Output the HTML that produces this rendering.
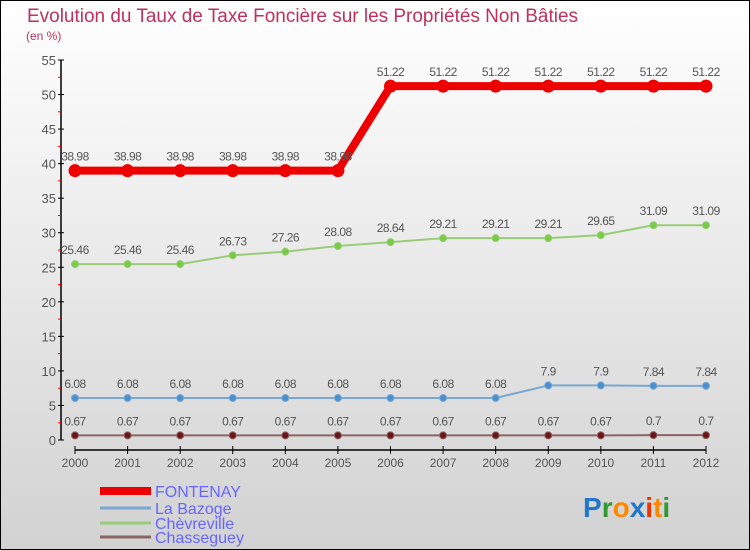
<!DOCTYPE html>
<html><head><meta charset="utf-8"><style>
body{margin:0}
#c{width:750px;height:550px;position:relative;overflow:hidden;background:linear-gradient(#ffffff,#d2d2d2);box-sizing:border-box;border:1px solid #000;font-family:"Liberation Sans",sans-serif}
</style></head><body>
<div id="c">
<svg id="s" width="750" height="550" style="position:absolute;left:-1px;top:-1px">
<text x="27" y="22" font-size="19" fill="#c0305a" textLength="551" lengthAdjust="spacingAndGlyphs">Evolution du Taux de Taxe Foncière sur les Propriétés Non Bâties</text>
<text x="26" y="40" font-size="12" fill="#c0305a">(en %)</text>
<g id="ax"></g><g id="series"></g>
<g>
<line x1="100" y1="491" x2="151" y2="491" stroke="#ee0000" stroke-width="8"/>
<text x="155" y="497" font-size="16" fill="#6666ff">FONTENAY</text>
<line x1="100" y1="508" x2="151" y2="508" stroke="#7aa8d0" stroke-width="3"/>
<text x="155" y="514" font-size="16" fill="#6666ff">La Bazoge</text>
<line x1="100" y1="523" x2="151" y2="523" stroke="#99cc77" stroke-width="3"/>
<text x="155" y="529" font-size="16" fill="#6666ff">Chèvreville</text>
<line x1="100" y1="537" x2="151" y2="537" stroke="#8b6464" stroke-width="3"/>
<text x="155" y="543" font-size="16" fill="#6666ff">Chasseguey</text>
</g>
<text x="583" y="517" font-size="28" font-weight="bold"><tspan fill="#2277cc">P</tspan><tspan fill="#339933">r</tspan><tspan fill="#ff8800">o</tspan><tspan fill="#2277cc">x</tspan><tspan fill="#ee3300">i</tspan><tspan fill="#ff8800">t</tspan><tspan fill="#339933">i</tspan></text>
</svg>
</div>
<script>
const years=[2000,2001,2002,2003,2004,2005,2006,2007,2008,2009,2010,2011,2012];
const fontenay=[38.98,38.98,38.98,38.98,38.98,38.98,51.22,51.22,51.22,51.22,51.22,51.22,51.22];
const bazoge=[6.08,6.08,6.08,6.08,6.08,6.08,6.08,6.08,6.08,7.9,7.9,7.84,7.84];
const chevreville=[25.46,25.46,25.46,26.73,27.26,28.08,28.64,29.21,29.21,29.21,29.65,31.09,31.09];
const chasseguey=[0.67,0.67,0.67,0.67,0.67,0.67,0.67,0.67,0.67,0.67,0.67,0.7,0.7];
const yTicks=[0,5,10,15,20,25,30,35,40,45,50,55];
const NS="http://www.w3.org/2000/svg";
const xs=i=>75+i*(706-75)/(years.length-1);
const ys=v=>440-v*(380/55);
function mk(t,a,p){const e=document.createElementNS(NS,t);for(const k in a)e.setAttribute(k,a[k]);p.appendChild(e);return e;}
const ax=document.getElementById('ax');
let e=mk('line',{x1:61,y1:ys(55),x2:61,y2:440,stroke:'#000','stroke-width':1.5},ax);


e=mk('line',{x1:75,y1:450,x2:706,y2:450,stroke:'#000','stroke-width':1.5},ax);


yTicks.forEach(v=>{
 mk('line',{x1:58,y1:ys(v),x2:64,y2:ys(v),stroke:'#000'},ax);
 if(v<55) mk('line',{x1:58,y1:ys(v+2.5),x2:61,y2:ys(v+2.5),stroke:'#f00'},ax);
 const t=mk('text',{x:56,y:ys(v)+5,'text-anchor':'end','font-size':13,fill:'#555'},ax);
 t.textContent=v;
 
 
});
years.forEach((y,i)=>{
 mk('line',{x1:xs(i),y1:446,x2:xs(i),y2:454,stroke:'#000'},ax);
 const t=mk('text',{x:xs(i),y:467,'text-anchor':'middle','font-size':12,fill:'#555'},ax);
 t.textContent=y;
 
 
});
const sg=document.getElementById('series');
function series(vals,name,color,w,r,dot){
 const g=mk('g',{},sg);
 
 
 const pl=mk('polyline',{points:vals.map((v,i)=>xs(i)+','+ys(v)).join(' '),fill:'none',stroke:color,'stroke-width':w,'stroke-linejoin':'round'},g);
 
 
 vals.forEach((v,i)=>{
  const c=mk('circle',{cx:xs(i),cy:ys(v),r:r,fill:dot,stroke:color,'stroke-width':1},g);
  
  
  const t=mk('text',{x:xs(i),y:ys(v)-10,'text-anchor':'middle','font-size':12,fill:'#555','letter-spacing':'-0.5'},g);
  t.textContent=v;
  
  
 });
}
series(chasseguey,'chasseguey','#8b6464',2,3.5,'#6b1515');
series(bazoge,'la-bazoge','#7aa8d0',2,3.5,'#4a90d0');
series(chevreville,'chevreville','#99cc77',2,3.5,'#77cc44');
series(fontenay,'fontenay','#ee0000',8,6,'#ee0000');
</script>
</body></html>
